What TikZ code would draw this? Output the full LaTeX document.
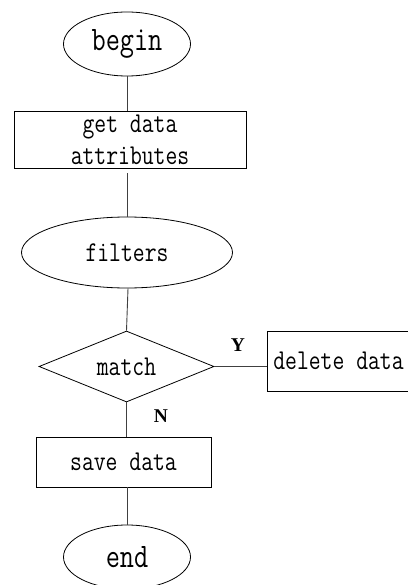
\documentclass[tikz,border=0pt]{standalone}
\usepackage{fontspec}
\usepackage{graphicx}
\usetikzlibrary{shapes.geometric}
\newfontfamily\ynfont{Liberation Serif}
\newcommand{\mtxt}[1]{\scalebox{1}[1.25]{#1}}
\begin{document}
\begin{tikzpicture}[x=1pt,y=-1pt,
  shp/.style={draw=black, line width=0.8pt, inner sep=0pt, font=\ttfamily\fontsize{23}{30}\selectfont},
  oval/.style={shp, ellipse},
  boxn/.style={shp, rectangle, align=center},
  dia/.style={shp, diamond},
  conn/.style={draw=black!75, line width=0.9pt},
  yn/.style={font=\ynfont\bfseries\fontsize{19.5}{20}\selectfont}]
\useasboundingbox (0,0) rectangle (407,585);
\node[oval, minimum width=127pt, minimum height=64pt, font=\ttfamily\fontsize{27.5}{30}\selectfont] (begin) at (127,44) {\mtxt{begin}};
\node[boxn, minimum width=232pt, minimum height=57pt] (get) at (130,139.5) {\mtxt{get data}\\[2pt]\mtxt{attributes}};
\node[oval, minimum width=211pt, minimum height=71pt] (filters) at (127,252.5) {\mtxt{filters}};
\node[dia, minimum width=175pt, minimum height=71pt, aspect=2.4] (match) at (126.5,366.5) {\mtxt{match}};
\node[boxn, minimum width=143pt, minimum height=60pt] (delete) at (338.5,361) {\mtxt{delete data}};
\node[boxn, minimum width=175pt, minimum height=50pt] (save) at (123.5,462) {\mtxt{save data}};
\node[oval, minimum width=127pt, minimum height=64pt, font=\ttfamily\fontsize{27.5}{30}\selectfont] (end) at (127,557) {\mtxt{end}};
\node[yn] (ylab) at (238,345) {Y};
\node[yn] (nlab) at (161,416) {N};
\draw[conn] (begin.south) -- (begin.south |- get.north);
\draw[conn] ([yshift=-5pt]begin.south |- get.south) -- (begin.south |- filters.north);
\draw[conn] ([xshift=1pt]filters.south) -- (match.north);
\draw[conn] (match.east) -- (match.east -| delete.west);
\draw[conn] (match.south) -- (match.south |- save.north);
\draw[conn] (end.north |- save.south) -- (end.north);
\end{tikzpicture}
\end{document}
